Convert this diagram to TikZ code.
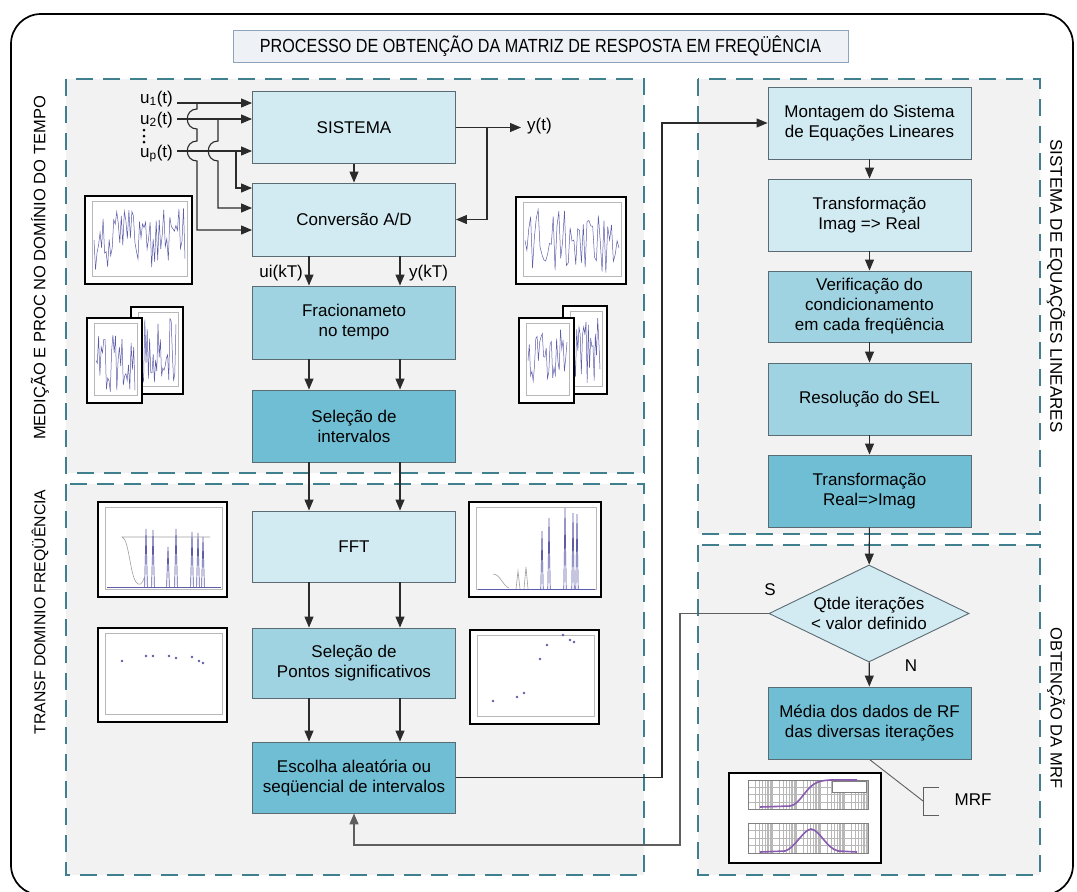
\documentclass[tikz,border=0pt]{standalone}
\usepackage{fontspec}
\setmainfont{Liberation Sans}
\usetikzlibrary{arrows.meta,shapes.geometric,calc}

\definecolor{regline}{HTML}{3F7F8E}
\definecolor{regfill}{HTML}{F2F2F2}
\definecolor{boxA}{HTML}{D2EBF2}
\definecolor{boxB}{HTML}{A0D3E1}
\definecolor{boxC}{HTML}{6FBED3}
\definecolor{boxline}{HTML}{5B6B73}
\definecolor{wirec}{HTML}{2B2B2B}
\definecolor{loopc}{HTML}{5E5E5E}
\definecolor{sigc}{HTML}{5C5CA8}
\definecolor{axisc}{HTML}{B8B8B8}
\definecolor{titlefill}{HTML}{EEF1F5}
\definecolor{titleline}{HTML}{8EA4BA}
\definecolor{bodec}{HTML}{8A5CB0}

% framed mini chart: background, inner axes, content, thick frame
\newcommand\figplot[5]{%
  \fill[white] (#1,#2) rectangle (#3,#4);
  \draw[axisc, line width=0.4pt] ({#1+7},{#2+5}) rectangle ({#3-5},{#4-8});
  #5
  \draw[line width=2pt] (#1,#2) rectangle (#3,#4);
}
% random time signal inside a chart
\newcommand\tsignal[6]{%
  \pgfmathsetseed{#5}%
  \draw[sigline] ({#1+9},{(#2+#4)/2}) foreach \k in {1,...,#6}{
    -- ({#1+9+\k*(#3-#1-16)/#6},{(#2+#4)/2+(rnd-0.5)*(#4-#2-22)}) };
}

\begin{document}
\begin{tikzpicture}[x=1pt,y=-1pt,
  region/.style={draw=regline, fill=regfill, line width=2pt, dash pattern=on 17pt off 10pt},
  bx/.style={draw=boxline, line width=0.9pt, minimum width=203pt, minimum height=72pt,
    align=center, inner sep=2pt, font=\fontsize{17}{20}\selectfont},
  wire/.style={draw=wirec, line width=1.1pt},
  arr/.style={wire, -{Triangle[length=11pt,width=9pt]}},
  loopw/.style={draw=loopc, line width=1.4pt},
  sidelabel/.style={inner sep=0pt},
  lbl/.style={font=\fontsize{17}{20}\selectfont, inner sep=1pt},
  sigline/.style={draw=sigc, line width=0.5pt},
  dot/.style={fill=sigc}
]
\useasboundingbox (0,0) rectangle (1077,892);
\fill[white] (0,0) rectangle (1077,892);

% outer frame
\draw[line width=1.7pt, rounded corners=30pt] (11,14) rectangle (1073,895);

% title
\node[draw=titleline, fill=titlefill, line width=0.8pt, minimum width=615pt, minimum height=32pt]
  (title) at (540.5,46) {\scalebox{0.85}[1]{\fontsize{19}{22}\selectfont PROCESSO DE OBTENÇÃO DA MATRIZ DE RESPOSTA EM FREQÜÊNCIA}};

% dashed regions
\draw[region] (66,79) rectangle (644,473);
\draw[region] (66,484) rectangle (644,875);
\draw[region] (698,79) rectangle (1040,534);
\draw[region] (698,545) rectangle (1040,875);

% region labels
\node[sidelabel, rotate=90, font=\fontsize{16.5}{19}\selectfont] (labA) at (40,268) {MEDIÇÃO E PROC NO DOMÍNIO DO TEMPO};
\node[sidelabel, rotate=90, font=\fontsize{15.8}{19}\selectfont] (labB) at (40,612) {TRANSF DOMINIO FREQÜÊNCIA};
\node[sidelabel, rotate=-90, font=\fontsize{17}{20}\selectfont] (labC) at (1056,286) {SISTEMA DE EQUAÇÕES LINEARES};
\node[sidelabel, rotate=-90, font=\fontsize{16.5}{19}\selectfont] (labD) at (1056,708) {OBTENÇÃO DA MRF};

% ---------- time-domain charts ----------
\figplot{85}{196}{192}{284}{\tsignal{85}{196}{192}{284}{11}{60}}
\figplot{131}{307}{183}{394}{\tsignal{131}{307}{183}{394}{12}{30}}
\figplot{87}{318}{142}{403}{\tsignal{87}{318}{142}{403}{13}{30}}
\figplot{516}{197}{626}{284}{\tsignal{516}{197}{626}{284}{14}{50}}
\figplot{563}{306}{607}{394}{\tsignal{563}{306}{607}{394}{15}{24}}
\figplot{519}{318}{574}{403}{\tsignal{519}{318}{574}{403}{16}{30}}

% ---------- spectra ----------
\figplot{98}{502}{227}{597}{
  \draw[sigline] (107,587) -- (221,587);
  \draw[gray!75, line width=0.6pt] (210,537) -- (122,537)
    .. controls (129,539) and (130,574) .. (136,582) .. controls (139,586) and (142,585) .. (144,578);
  \foreach \sx/\sy in {146/529,153/530,168/547,176/529,192/532,198/533,203/537}
    \draw[sigline, line width=0.7pt] (\sx-1.4,587) -- (\sx,\sy) -- (\sx+1.4,587);
}
\figplot{469}{502}{601}{597}{
  \draw[sigline] (478,589) -- (595,589);
  \draw[gray!75, line width=0.6pt] (493,574) .. controls (500,574) and (503,586) .. (509,588);
  \foreach \sx/\sy in {518/571,526/567}
    \draw[gray!75, line width=0.6pt] (\sx-2,589) -- (\sx,\sy) -- (\sx+2,589);
  \foreach \sx/\sy in {542/531,549/518,565/508,573/513,577/514}
    \draw[sigline, line width=0.7pt] (\sx-1.2,589) -- (\sx,\sy) -- (\sx+1.2,589);
}
% selected points
\figplot{98}{628}{227}{722}{
  \foreach \px/\py in {122/661,146/656,153/656,169/656,176/658,192/657,199/661,203/663}
    \fill[dot] (\px,\py) circle (1.4);
}
\figplot{470}{630}{599}{724}{
  \foreach \px/\py in {493/701,517/697,524/693,540/659,547/645,563/635,570/640,574/642}
    \fill[dot] (\px,\py) circle (1.4);
}
% frequency response chart
\fill[white] (729,773) rectangle (881,863);
\foreach \ya/\yb in {780/809,823/853}{
  \foreach \d in {0,...,4}{
    \foreach \k in {1,...,9}{
      \draw[axisc, line width=0.3pt] ({748+24*(\d+log10(\k))},\ya) -- ({748+24*(\d+log10(\k))},\yb);
    }
  }
  \foreach \g in {0,...,4}
    \draw[axisc, line width=0.3pt] (748,{\ya+\g*(\yb-\ya)/4}) -- (868,{\ya+\g*(\yb-\ya)/4});
  \draw[gray, line width=0.4pt] (748,\ya) rectangle (868,\yb);
}
\draw[bodec, line width=1.6pt] (760,807) -- (790,806) .. controls (800,805) and (806,786) .. (818,782)
  .. controls (826,779) and (840,780) .. (857,780);
\draw[bodec, line width=1.6pt] (760,852) -- (785,851) .. controls (795,848) and (803,830) .. (811,829)
  .. controls (820,830) and (826,848) .. (838,851) -- (857,852);
\draw[fill=white, draw=gray, line width=0.3pt] (832,781) rectangle (866,792);
\draw[line width=2pt] (729,773) rectangle (881,863);

% ---------- process boxes ----------
\node[bx, fill=boxA] (sis) at (354,127.5) {SISTEMA};
\node[bx, fill=boxA, minimum height=73pt] (conv) at (354,219.5) {Conversão A/D};
\node[bx, fill=boxB, minimum height=73pt] (frac) at (354,322.5) {Fracionameto\\no tempo};
\node[bx, fill=boxC] (selint) at (354,426) {Seleção de\\intervalos};
\node[bx, fill=boxA, minimum height=71pt] (fft) at (354,546.5) {FFT};
\node[bx, fill=boxB, minimum height=70pt] (selpt) at (354,663) {Seleção de\\Pontos significativos};
\node[bx, fill=boxC, minimum height=71pt] (esc) at (354,777.5) {Escolha aleatória ou\\seqüencial de intervalos};

\node[bx, fill=boxA] (mont) at (869.5,123) {Montagem do Sistema\\de Equações Lineares};
\node[bx, fill=boxA] (timre) at (869.5,215) {Transformação\\Imag => Real};
\node[bx, fill=boxB, minimum height=71pt] (verif) at (869.5,306.5) {Verificação do\\condicionamento\\em cada freqüência};
\node[bx, fill=boxB] (resol) at (869.5,399) {Resolução do SEL};
\node[bx, fill=boxC] (trei) at (869.5,491) {Transformação\\Real=>Imag};
\node[diamond, draw=boxline, line width=0.9pt, fill=boxA, aspect=2.06, minimum width=200pt,
  minimum height=97pt, inner sep=0pt, align=center, font=\fontsize{17}{20}\selectfont]
  (dec) at (869,613.5) {Qtde iterações\\< valor definido};
\node[bx, fill=boxC] (media) at (869.5,723) {Média dos dados de RF\\das diversas iterações};

% ---------- inputs ----------
\node[lbl, anchor=base east] (lu1) at (174,103) {u\textsubscript{1}(t)};
\node[lbl, anchor=base east] (lu2) at (174,124) {u\textsubscript{2}(t)};
\node[lbl, anchor=base east] (lup) at (174,157) {u\textsubscript{p}(t)};
\foreach \vy in {130,136,142} \fill (144,\vy) circle (1.5);

\coordinate (in1) at (177,103);
\coordinate (in2) at (177,119);
\coordinate (inp) at (177,151);
\draw[arr] (in1) -- (sis.west |- in1);
\draw[arr] (in2) -- (sis.west |- in2);
\draw[arr] (inp) -- (sis.west |- inp);

% branches to the converter, hopping over the crossing lines
\coordinate (bA) at (197,103);
\coordinate (bB) at (218,119);
\coordinate (bC) at (236,151);
\draw[arr] (bA) -- (197,109) .. controls (184,109) and (184,129) .. (197,129) -- (197,141)
  .. controls (184,141) and (184,161) .. (197,161) -- (197,230) -- (conv.west |- 0,230);
\draw[arr] (bB) -- (218,141) .. controls (205,141) and (205,161) .. (218,161) -- (218,208)
  -- (conv.west |- 0,208);
\draw[arr] (bC) -- (236,188) -- (conv.west |- 0,188);

% output
\node[lbl, anchor=west] (yt) at (526,126) {y(t)};
\draw[arr] (sis.east) -- ([xshift=-5pt]yt.west |- sis.east);
\coordinate (yb) at (487,127.5);
\draw[arr] (yb) |- (conv.east);
\draw[arr] (sis) -- (conv);

% vertical flow in the left column
\coordinate (cA) at (309,0);
\coordinate (cB) at (400,0);
\foreach \top/\bot in {conv/frac,frac/selint,selint/fft,fft/selpt,selpt/esc}{
  \draw[arr] (\top.south -| cA) -- (\bot.north -| cA);
  \draw[arr] (\top.south -| cB) -- (\bot.north -| cB);
}
\node[lbl, anchor=east] (lui) at (304,273) {ui(kT)};
\node[lbl, anchor=west] (lyk) at (408,273) {y(kT)};

% to the linear system
\coordinate (cM) at (662,0);
\draw[arr] (esc.east) -- (esc.east -| cM) -- (cM |- mont.west) -- (mont.west);

% right column
\draw[arr] (mont) -- (timre);
\draw[arr] (timre) -- (verif);
\draw[arr] (verif) -- (resol);
\draw[arr] (resol) -- (trei);
\draw[arr] (trei) -- (dec);
\draw[arr] (dec) -- (media);
\node[lbl] (lS) at (770,590) {S};
\node[lbl] (lN) at (911,666) {N};

% loop back
\coordinate (lp) at (680,0);
\draw[loopw, -{Triangle[length=11pt,width=9pt]}] (dec.west) -- (dec.west -| lp) -- (lp |- 0,845)
  -- (esc.south |- 0,845) -- (esc.south);

% result
\node[lbl] (mrf) at (973,800) {MRF};
\coordinate (brk) at (923,801);
\draw[draw=loopc, line width=0.9pt] (media.south) -- (brk);
\draw[draw=loopc, line width=0.9pt] (939,787) -- (923,787) -- (923,815) -- (939,815);
\end{tikzpicture}
\end{document}
